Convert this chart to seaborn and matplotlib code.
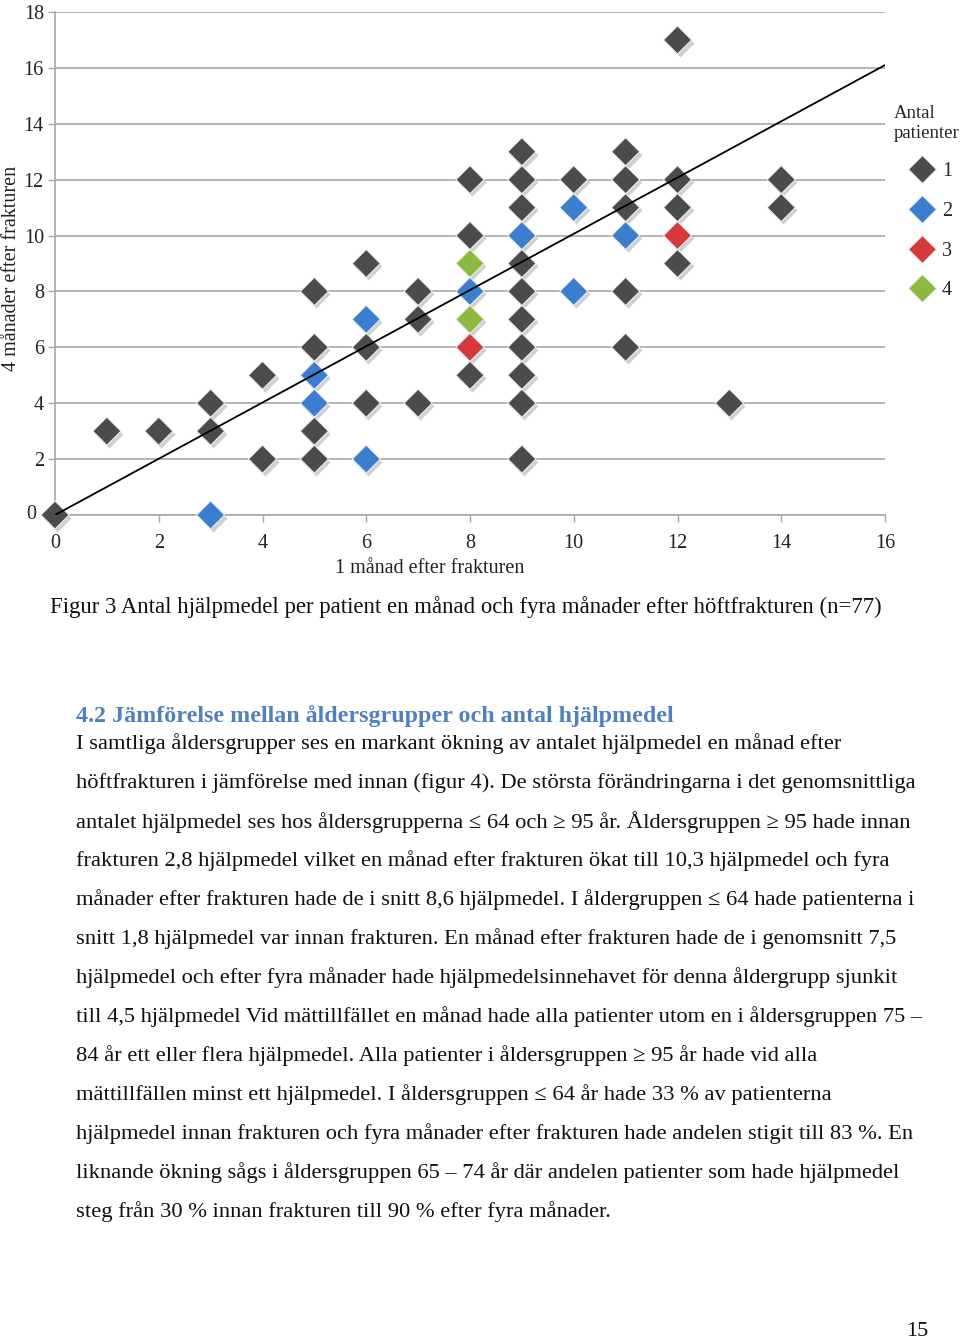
import matplotlib
matplotlib.use("Agg")
import matplotlib.pyplot as plt
import matplotlib.transforms as mtransforms
import seaborn as sns
import pandas as pd

# antal hjälpmedel per patient: 1 månad (x) och 4 månader (y) efter frakturen
manad1 = [0, 1, 2, 3, 3, 3, 4, 4,
          5, 5, 5, 5, 5, 5,
          6, 6, 6, 6, 6,
          7, 7, 7,
          8, 8, 8, 8, 8, 8, 8,
          9, 9, 9, 9, 9, 9, 9, 9, 9, 9, 9,
          10, 10, 10,
          11, 11, 11, 11, 11, 11,
          12, 12, 12, 12, 12,
          13, 14, 14]
manad4 = [0, 3, 3, 4, 3, 0, 5, 2,
          8, 6, 5, 4, 3, 2,
          9, 7, 6, 4, 2,
          8, 7, 4,
          12, 10, 9, 8, 7, 6, 5,
          13, 12, 11, 10, 9, 8, 7, 6, 5, 4, 2,
          12, 11, 8,
          13, 12, 11, 10, 8, 6,
          17, 12, 11, 10, 9,
          4, 12, 11]
# antal patienter i varje punkt
antal = [1, 1, 1, 1, 1, 2, 1, 1,
         1, 1, 2, 2, 1, 1,
         1, 2, 1, 1, 2,
         1, 1, 1,
         1, 1, 4, 2, 4, 3, 1,
         1, 1, 1, 2, 1, 1, 1, 1, 1, 1, 1,
         1, 2, 2,
         1, 1, 1, 2, 1, 1,
         1, 1, 1, 3, 1,
         1, 1, 1]

# trendlinje
trend_x = [0, 16]
trend_y = [0, 16.1]

x_ticks = [0, 2, 4, 6, 8, 10, 12, 14, 16]
y_ticks = [0, 2, 4, 6, 8, 10, 12, 14, 16, 18]

antal_order = ["1", "2", "3", "4"]
farger = {"1": "#4b4b4b", "2": "#3b7dcf", "3": "#d7383a", "4": "#8cba3e"}

rubrik = "4.2 Jämförelse mellan åldersgrupper och antal hjälpmedel"
brodtext = [
    "I samtliga åldersgrupper ses en markant ökning av antalet hjälpmedel en månad efter",
    "höftfrakturen i jämförelse med innan (figur 4). De största förändringarna i det genomsnittliga",
    "antalet hjälpmedel ses hos åldersgrupperna ≤ 64 och ≥ 95 år. Åldersgruppen ≥ 95 hade innan",
    "frakturen 2,8 hjälpmedel vilket en månad efter frakturen ökat till 10,3 hjälpmedel och fyra",
    "månader efter frakturen hade de i snitt 8,6 hjälpmedel. I åldergruppen ≤ 64 hade patienterna i",
    "snitt 1,8 hjälpmedel var innan frakturen. En månad efter frakturen hade de i genomsnitt 7,5",
    "hjälpmedel och efter fyra månader hade hjälpmedelsinnehavet för denna åldergrupp sjunkit",
    "till 4,5 hjälpmedel Vid mättillfället en månad hade alla patienter utom en i åldersgruppen 75 –",
    "84 år ett eller flera hjälpmedel. Alla patienter i åldersgruppen ≥ 95 år hade vid alla",
    "mättillfällen minst ett hjälpmedel. I åldersgruppen ≤ 64 år hade 33 % av patienterna",
    "hjälpmedel innan frakturen och fyra månader efter frakturen hade andelen stigit till 83 %. En",
    "liknande ökning sågs i åldersgruppen 65 – 74 år där andelen patienter som hade hjälpmedel",
    "steg från 30 % innan frakturen till 90 % efter fyra månader.",
]

df = pd.DataFrame({"manad1": manad1, "manad4": manad4,
                   "antal": [str(a) for a in antal]})

sns.set_style("white")
plt.rcParams["font.family"] = ["Liberation Serif", "DejaVu Serif"]

W, H = 960, 1343
fig = plt.figure(figsize=(W / 100, H / 100), dpi=100)


def fx(x):
    return x / W


def fy(y):
    return 1 - y / H


# plot area in pixels: x 55..885, y 12..515
ax = fig.add_axes([fx(55), fy(515), fx(885) - fx(55), (515 - 12) / H])

# light shadow below each diamond
skugga = mtransforms.offset_copy(ax.transData, fig=fig, x=1.5, y=-2.0, units="points")
sns.scatterplot(data=df, x="manad1", y="manad4", color="#bdbdbd", marker="D",
                s=205, linewidth=0, alpha=0.7, legend=False, ax=ax,
                transform=skugga, zorder=2, clip_on=False)

sns.scatterplot(data=df, x="manad1", y="manad4", hue="antal", hue_order=antal_order,
                palette=farger, marker="D", s=205, edgecolor="#ececec",
                linewidth=0.8, ax=ax, zorder=3, clip_on=False)

ax.plot(trend_x, trend_y, color="black", linewidth=1.3, zorder=4)

ax.set_xlim(0, 16)
ax.set_ylim(0, 18)
ax.set_xticks(x_ticks)
ax.set_yticks(y_ticks)
ax.set_xticklabels([str(t) for t in x_ticks])
ax.set_yticklabels([str(t) for t in y_ticks])
ax.grid(axis="y", color="#a8a8a8", linewidth=1.2)
ax.grid(axis="x", visible=False)
ax.set_axisbelow(True)
for side in ["top", "right"]:
    ax.spines[side].set_visible(False)
for side in ["left", "bottom"]:
    ax.spines[side].set_color("#a8a8a8")
    ax.spines[side].set_linewidth(1.2)
ax.tick_params(axis="x", bottom=True, length=5, width=1, color="#a8a8a8",
               pad=9, labelsize=14.5, labelcolor="#222222")
ax.tick_params(axis="y", left=True, length=5, width=1, color="#a8a8a8",
               pad=3, labelsize=14.5, labelcolor="#222222")

# the "0" label sits a bit further left so the diamond at (0, 0) does not cover it
noll = ax.yaxis.get_major_ticks()[0].label1
noll.set_transform(noll.get_transform()
                   + mtransforms.ScaledTranslation(-8 / 100, 3 / 100, fig.dpi_scale_trans))

ax.set_xlabel("1 månad efter frakturen", fontsize=14.5, color="#222222")
ax.xaxis.set_label_coords((430 - 55) / 830, -0.088)
ax.set_ylabel("4 månader efter frakturen", fontsize=14.5, color="#222222")
ax.yaxis.set_label_coords(-0.041, 0.49)

sns.move_legend(ax, "upper center", bbox_to_anchor=(fx(927), fy(95)),
                bbox_transform=fig.transFigure, frameon=False,
                title="Antal\npatienter", fontsize=14.5, title_fontsize=13.5,
                alignment="center", labelspacing=1.02, handletextpad=0.0,
                borderpad=0)

# figurtext
fig.text(fx(50), fy(607), "Figur 3 Antal hjälpmedel per patient en månad och fyra månader efter höftfrakturen (n=77)",
         fontsize=16.4, va="center", ha="left", color="#111111")

fig.text(fx(76), fy(716), rubrik, fontsize=17.3, fontweight="bold",
         color="#4f81bd", va="center", ha="left")

for i, rad in enumerate(brodtext):
    fig.text(fx(76), fy(744 + 39 * i), rad, fontsize=16.2, va="center",
             ha="left", color="#111111")

fig.text(fx(917), fy(1332), "15", fontsize=16, va="center", ha="center", color="#111111")

fig.savefig("out.png", dpi=100)
